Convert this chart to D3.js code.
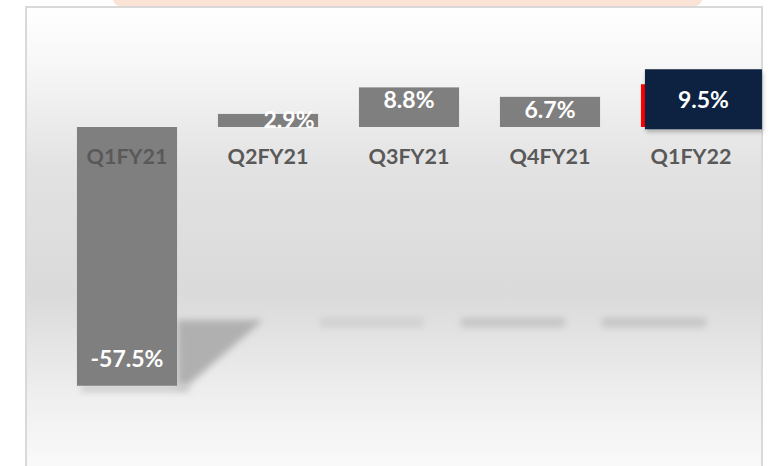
<!DOCTYPE html>
<html>
<head>
<meta charset="utf-8">
<script src="https://cdn.jsdelivr.net/npm/d3@7"></script>
<style>
    body { margin: 0; background: #ffffff; }
    svg { display: block; }
    text { font-family: "Lato", "Open Sans", sans-serif; font-weight: 700; }
</style>
</head>
<body>
<svg id="chart" width="769" height="466"></svg>
<script>
const categories = ["Q1FY21", "Q2FY21", "Q3FY21", "Q4FY21", "Q1FY22"];
const growth = [-57.5, 2.9, 8.8, 6.7, 9.5];
const valueLabels = ["-57.5%", "2.9%", "8.8%", "6.7%", "9.5%"];
const yDomain = [-60, 10];
const highlight = "Q1FY22";

function drawChart() {
    let svg = d3.select("#chart");
    svg.selectAll("*").remove();

    const height = 466;
    const frame = { left: 26, top: 7, right: 762 };

    let data = categories.map((c, i) => ({ category: c, value: growth[i], label: valueLabels[i] }));

    let xScale = d3.scaleBand()
        .domain(categories)
        .range([56.5, 761.5])
        .paddingInner(0.29)
        .paddingOuter(0.145);

    let yScale = d3.scaleLinear()
        .domain(yDomain)
        .range([397, 82]);

    let y0 = yScale(0);
    let defs = svg.append("defs");

    let grad = defs.append("linearGradient")
        .attr("id", "bg")
        .attr("x1", 0).attr("y1", 0).attr("x2", 0).attr("y2", 1);
    [[0, "#ffffff"], [0.12, "#f7f7f7"], [0.34, "#e2e2e2"], [0.6, "#dadada"], [0.82, "#efefef"], [1, "#fcfcfc"]]
        .forEach(s => grad.append("stop").attr("offset", s[0]).attr("stop-color", s[1]));

    defs.append("filter").attr("id", "blur")
        .attr("x", "-30%").attr("y", "-60%").attr("width", "160%").attr("height", "220%")
        .append("feGaussianBlur").attr("stdDeviation", 3.5);

    let ds = defs.append("filter").attr("id", "drop")
        .attr("x", "-10%").attr("y", "-10%").attr("width", "130%").attr("height", "140%");
    ds.append("feDropShadow").attr("dx", 1).attr("dy", 3).attr("stdDeviation", 2)
        .attr("flood-color", "#000").attr("flood-opacity", 0.25);

    // top pill and frame
    svg.append("rect")
        .attr("x", 113).attr("y", -12).attr("width", 589).attr("height", 18).attr("rx", 7)
        .attr("fill", "#fbe3d6");

    svg.append("rect")
        .attr("x", frame.left).attr("y", frame.top)
        .attr("width", frame.right - frame.left).attr("height", height + 10)
        .attr("fill", "url(#bg)")
        .attr("stroke", "#d9d9d9")
        .attr("stroke-width", 2);

    // perspective shadows under the bars
    let shadowY = y0 + 193;
    data.forEach(d => {
        let bx = xScale(d.category);
        if (d.value < 0) {
            let bw = xScale.bandwidth();
            let bottom = yScale(d.value);
            svg.append("polygon")
                .attr("points", [[bx + bw, shadowY], [bx + bw + 86, shadowY], [bx + bw + 8, bottom + 2], [bx + bw, bottom + 2]].join(" "))
                .attr("fill", "#b0b0b0")
                .attr("filter", "url(#blur)");
            svg.append("rect")
                .attr("x", bx + 4).attr("y", bottom - 2)
                .attr("width", bw + 8).attr("height", 8)
                .attr("fill", "#cccccc")
                .attr("filter", "url(#blur)");
        } else if (d.value > 3) {
            svg.append("rect")
                .attr("x", bx - 39).attr("y", shadowY - 2)
                .attr("width", 104).attr("height", 9)
                .attr("fill", "#b8b8b8")
                .attr("opacity", d.value > 8 && d.category !== highlight ? 0.4 : 0.7)
                .attr("filter", "url(#blur)");
        }
    });

    svg.selectAll(".bar")
        .data(data)
        .enter()
        .append("rect")
        .attr("class", "bar")
        .attr("x", d => xScale(d.category))
        .attr("y", d => Math.min(yScale(d.value), y0))
        .attr("width", xScale.bandwidth())
        .attr("height", d => Math.abs(yScale(d.value) - y0))
        .attr("fill", d => d.category === highlight ? "#ff0000" : "#7f7f7f");

    svg.selectAll(".cat")
        .data(data)
        .enter()
        .append("text")
        .attr("class", "cat")
        .attr("x", d => xScale(d.category) + xScale.bandwidth() / 2)
        .attr("y", y0 + 37)
        .attr("text-anchor", "middle")
        .attr("font-size", 21.5)
        .attr("fill", "#595959")
        .text(d => d.category);

    // callout box for the latest quarter
    let hx = xScale(highlight);
    let hv = growth[categories.indexOf(highlight)];
    svg.append("rect")
        .attr("x", hx + 4).attr("y", yScale(hv) - 15)
        .attr("width", 117).attr("height", 60)
        .attr("fill", "#0f2240")
        .attr("filter", "url(#drop)");

    svg.selectAll(".val")
        .data(data)
        .enter()
        .append("text")
        .attr("class", "val")
        .attr("x", d => {
            let cx = xScale(d.category) + xScale.bandwidth() / 2;
            if (d.category === highlight) return hx + 4 + 117 / 2;
            if (d.category === "Q2FY21") return cx + 21;
            return cx;
        })
        .attr("y", d => {
            let top = yScale(d.value);
            if (d.value < 0) return top - 19;
            if (d.category === highlight) return top + 24;
            return Math.min(top + 21, (top + y0) / 2 + 8);
        })
        .attr("text-anchor", "middle")
        .attr("font-size", 23)
        .attr("fill", "#ffffff")
        .text(d => d.label);
}

drawChart();
</script>
</body>
</html>
